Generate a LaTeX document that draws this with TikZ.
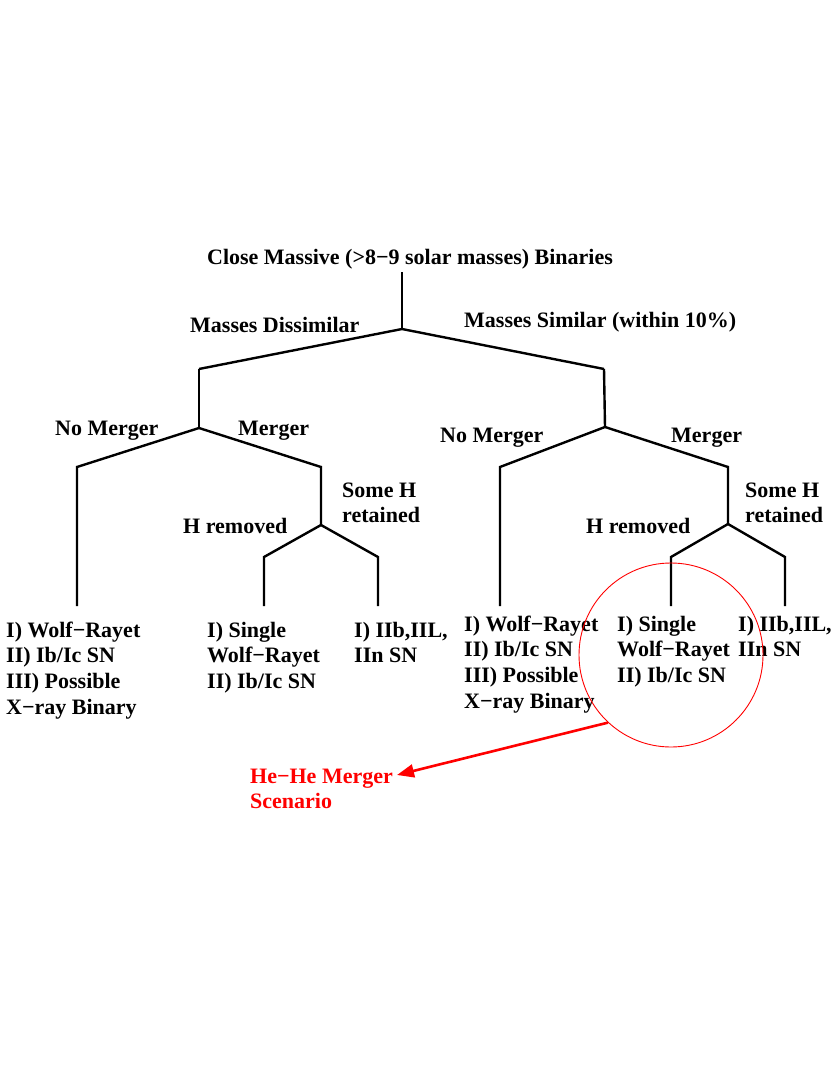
\documentclass[tikz,border=0pt]{standalone}
\usepackage{fontspec}
\setmainfont{Liberation Serif}
\usetikzlibrary{arrows.meta}
\newcommand{\stackl}[1]{\begin{tabular}[t]{@{}l@{}}#1\end{tabular}}
\begin{document}
\begin{tikzpicture}[x=1pt,y=-1pt,
  branch/.style={line width=2.4pt, black, line join=miter},
  lbl/.style={font=\fontsize{22}{25.7}\selectfont\bfseries, inner sep=0pt, anchor=base west},
  redlbl/.style={lbl, text=red},
  ring/.style={circle, draw=red, line width=0.9pt, minimum size=184pt, inner sep=0pt},
  pointer/.style={red, line width=2.6pt, -{Triangle[length=17pt,width=13pt]}}]
\useasboundingbox[fill=white] (0,0) rectangle (830,1075);
% title
\node[lbl, anchor=base] (title) at (410,265) {Close Massive (>8−9 solar masses) Binaries};
% root
\coordinate (r0) at (402,272);
\coordinate (r1) at (402,329);
\coordinate (L0) at (199,369);
\coordinate (R0) at (604,369);
\draw[branch] (r0) -- (r1);
\draw[branch] (L0) -- (r1) -- (R0);
\node[lbl] (md) at (190,332) {Masses Dissimilar};
\node[lbl] (ms) at (464,327) {Masses Similar (within 10\%)};
% left subtree
\coordinate (L1) at (199,428);
\coordinate (LL) at (77,467);
\coordinate (LR) at (321,467);
\coordinate (LLb) at (77,606);
\coordinate (LR1) at (321,525);
\coordinate (LRL) at (264,557);
\coordinate (LRR) at (378,557);
\coordinate (LRLb) at (264,606);
\coordinate (LRRb) at (378,606);
\draw[branch] (L0) -- (L1);
\draw[branch] (LLb) -- (LL) -- (L1) -- (LR) -- (LR1);
\draw[branch] (LRLb) -- (LRL) -- (LR1) -- (LRR) -- (LRRb);
\node[lbl] (lnm) at (55,435) {No Merger};
\node[lbl] (lm) at (238,435) {Merger};
\node[lbl] (lsh) at (342,497) {\stackl{Some H\\retained}};
\node[lbl] (lhr) at (183,533) {H removed};
\node[lbl] (leaf1) at (6,637) {\stackl{I) Wolf−Rayet\\II) Ib/Ic SN\\III) Possible\\X−ray Binary}};
\node[lbl] (leaf2) at (207,637) {\stackl{I) Single\\Wolf−Rayet\\II) Ib/Ic SN}};
\node[lbl] (leaf3) at (354,637) {\stackl{I) IIb,IIL,\\IIn SN}};
% right subtree
\coordinate (R1) at (605,427);
\coordinate (RL) at (500,467);
\coordinate (RR) at (728,467);
\coordinate (RLb) at (500,606);
\coordinate (RR1) at (728,524);
\coordinate (RRL) at (671,557);
\coordinate (RRR) at (785,557);
\coordinate (RRLb) at (671,606);
\coordinate (RRRb) at (785,606);
\draw[branch] (R0) -- (R1);
\draw[branch] (RLb) -- (RL) -- (R1) -- (RR) -- (RR1);
\draw[branch] (RRLb) -- (RRL) -- (RR1) -- (RRR) -- (RRRb);
\node[lbl] (rnm) at (440,442) {No Merger};
\node[lbl] (rm) at (671,442) {Merger};
\node[lbl] (rsh) at (745,497) {\stackl{Some H\\retained}};
\node[lbl] (rhr) at (586,533) {H removed};
\node[lbl] (leaf4) at (464,631) {\stackl{I) Wolf−Rayet\\II) Ib/Ic SN\\III) Possible\\X−ray Binary}};
\node[lbl] (leaf5) at (617,631) {\stackl{I) Single\\Wolf−Rayet\\II) Ib/Ic SN}};
\node[lbl] (leaf6) at (738,631) {\stackl{I) IIb,IIL,\\IIn SN}};
% highlight
\node[ring] (circ) at (671,655) {};
\node[redlbl] (he) at (250,783) {\stackl{He−He Merger\\Scenario}};
\coordinate (tip) at (397,775);
\draw[pointer] (circ.227) -- (tip);
\end{tikzpicture}
\end{document}
